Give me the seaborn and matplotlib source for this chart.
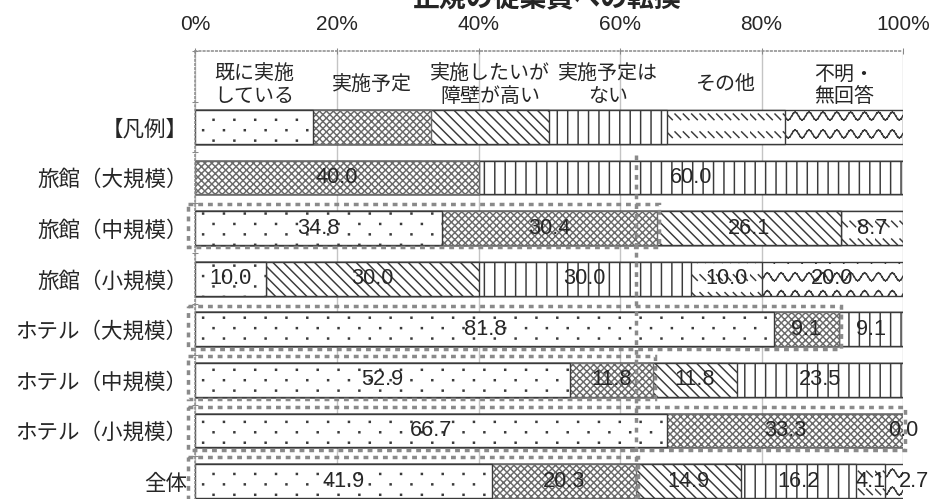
import warnings
import numpy as np
import pandas as pd
import matplotlib
matplotlib.use("Agg")
import matplotlib.pyplot as plt
from matplotlib import hatch as mhatch
from matplotlib.path import Path
from matplotlib.patches import Rectangle
import seaborn as sns

warnings.filterwarnings("ignore")

# ======================
# データ
# ======================
title = "正規の従業員への転換"
rows = ["旅館（大規模）", "旅館（中規模）", "旅館（小規模）",
        "ホテル（大規模）", "ホテル（中規模）", "ホテル（小規模）", "全体"]
answers = ["既に実施\nしている", "実施予定", "実施したいが\n障壁が高い",
           "実施予定は\nない", "その他", "不明・\n無回答"]
# nan = 表示なし
already = [np.nan, 34.8, 10.0, 81.8, 52.9, 66.7, 41.9]
planned = [40.0, 30.4, np.nan, 9.1, 11.8, 33.3, 20.3]
barrier = [np.nan, 26.1, 30.0, np.nan, 11.8, np.nan, 14.9]
no_plan = [60.0, np.nan, 30.0, 9.1, 23.5, np.nan, 16.2]
other = [np.nan, 8.7, 10.0, np.nan, np.nan, np.nan, 4.1]
unknown = [np.nan, np.nan, 20.0, np.nan, np.nan, 0.0, 2.7]
legend_vals = [100 / 6] * 6
highlight = ["旅館（中規模）", "ホテル（大規模）", "ホテル（中規模）", "ホテル（小規模）", "全体"]
xticks = [0, 20, 40, 60, 80, 100]

hatches = [":", "#", "$", "!", "`", "~"]
edges = ["#3a3a3a", "#6a6a6a", "#3a3a3a", "#3a3a3a", "#3a3a3a", "#3a3a3a"]
BOX = "#8a8a8a"
label_shift = {("全体", 5): 2.8}


# ======================
# 独自ハッチ (1タイル = 1インチ四方)
# ======================
def _segs(pairs):
    v = np.asarray(pairs, dtype=float).reshape(-1, 2)
    return v, np.tile([Path.MOVETO, Path.LINETO], len(v) // 2)


def _dots(rows=12, cols=6, s=0.004):
    sq = np.array([[-s, -s], [s, -s], [s, s], [-s, s], [-s, -s]])
    pts = []
    for r in range(rows):
        off = 0.5 if r % 2 else 0.0
        for c in range(cols):
            pts.append(sq + [(c + off + 0.25) / cols, (r + 0.5) / rows])
    codes = np.tile([Path.MOVETO, Path.LINETO, Path.LINETO, Path.LINETO, Path.CLOSEPOLY],
                    rows * cols)
    return np.concatenate(pts), codes


def _vlines(n):
    return _segs([[(i + 0.5) / n, y] for i in range(n) for y in (0, 1)])


def _diag(n, down=True):
    pairs = []
    for i in range(-n, n + 1):
        s = i / n
        pairs += [[s, 1], [s + 1, 0]] if down else [[s, 0], [s + 1, 1]]
    return _segs(pairs)


def _cross(n):
    a, ac = _diag(n, True)
    b, bc = _diag(n, False)
    return np.concatenate([a, b]), np.concatenate([ac, bc])


def _dashes(rows=7, cols=15, d=0.045):
    pairs = []
    for r in range(rows):
        y = (r + 0.3) / rows
        for c in range(cols):
            x = c / cols
            pairs += [[x, y + d], [x + d, y]]
    return _segs(pairs)


def _wave(rows=7, periods=9, steps=72, amp=0.032):
    t = np.linspace(0, 1, steps + 1)
    pairs = []
    for r in range(rows):
        y = (r + 0.5) / rows + amp * np.sin(2 * np.pi * periods * t)
        p = np.column_stack([t, y])
        pairs.append(np.stack([p[:-1], p[1:]], axis=1).reshape(-1, 2))
    return _segs(np.concatenate(pairs))


HATCH_PATHS = {":": _dots(), "#": _cross(18), "$": _diag(12), "!": _vlines(12),
               "`": _dashes(), "~": _wave()}


class CustomHatch(mhatch.HatchPatternBase):
    def __init__(self, hatch, density):
        self.parts = [HATCH_PATHS[c] for c in hatch if c in HATCH_PATHS]
        self.num_vertices = sum(len(v) for v, _ in self.parts)

    def set_vertices_and_codes(self, vertices, codes):
        vertices[:] = np.concatenate([v for v, _ in self.parts])
        codes[:] = np.concatenate([c for _, c in self.parts])


mhatch._hatch_types.append(CustomHatch)

# ======================
# 描画
# ======================
sns.set_theme(style="white")
plt.rcParams["font.family"] = ["Noto Sans CJK JP", "DejaVu Sans"]
plt.rcParams["hatch.linewidth"] = 0.85

cats = ["", "【凡例】"] + rows
series = [already, planned, barrier, no_plan, other, unknown]
vals = np.array([[np.nan] * 6, legend_vals] + [list(r) for r in zip(*series)], dtype=float)
cum = np.nancumsum(vals, axis=1)
df = pd.DataFrame(cum, columns=[f"c{k}" for k in range(6)])
df["cat"] = cats

fig = plt.figure(figsize=(9.35 / 1.25, 4.99 / 1.25), dpi=125)
ax = fig.add_axes([195.5 / 935, 1 - 51 / 499 - 455.4 / 499, 707.5 / 935, 455.4 / 499])

# 累積値を大きい方から重ねて積み上げ棒にする
for k in range(5, -1, -1):
    sns.barplot(data=df, x=f"c{k}", y="cat", order=cats, orient="h", color="white",
                edgecolor=edges[k], linewidth=0.8, width=0.67, errorbar=None, ax=ax)
    for p in ax.containers[-1]:
        p.set_hatch(hatches[k])
        p.set_facecolor("white")
        if p.get_width() == 0:
            p.set_visible(False)

ax.set_xlim(0, 100)
ax.set_ylim(8.5, -0.5)
ax.set_xlabel("")
ax.set_ylabel("")

ax.xaxis.tick_top()
ax.set_xticks(xticks)
ax.set_xticklabels([f"{t}%" for t in xticks], fontsize=12, family="Liberation Sans")
ax.tick_params(axis="x", top=True, bottom=False, direction="inout", length=4,
               width=0.6, color="#888888", pad=8)
ax.set_yticks(range(len(cats)))
ax.set_yticklabels(cats, fontsize=12.4)
ax.set_yticks(np.arange(-0.5, len(cats), 1), minor=True)
ax.tick_params(axis="y", which="major", length=0, pad=4.5)
ax.tick_params(axis="y", which="minor", left=True, direction="inout", length=4,
               width=0.6, color="#888888")

ax.xaxis.grid(True, color="#c4c4c4", lw=0.8)
ax.yaxis.grid(False)
ax.set_axisbelow(True)
for s in ["top", "left"]:
    ax.spines[s].set_color("#8c8c8c")
    ax.spines[s].set_linestyle(":")
    ax.spines[s].set_linewidth(0.9)
for s in ["right", "bottom"]:
    ax.spines[s].set_visible(False)

# 凡例行のラベル
centers = np.cumsum(legend_vals) - np.array(legend_vals) / 2
for c, a in zip(centers, answers):
    ax.text(c, 0.18, a, ha="center", va="center", fontsize=11.5, linespacing=1.05)

# 数値ラベル
for i in range(2, len(cats)):
    for k in range(6):
        v = vals[i, k]
        if np.isnan(v):
            continue
        x = cum[i, k] - v / 2 + label_shift.get((cats[i], k), 0)
        ax.text(x, i, f"{v:.1f}", ha="center", va="center", fontsize=12.5,
                family="Liberation Sans", zorder=6)

# 点線の囲み (既に実施 + 実施予定)
for name in highlight:
    i = cats.index(name)
    ax.add_patch(Rectangle((-1.0, i - 0.47), cum[i, 1] + 1.3, 0.85, fill=False, ec=BOX,
                           lw=2, ls=(0, (1.4, 1.4)), clip_on=False, zorder=5))
x_all = cum[cats.index("全体"), 1]
ax.vlines(x_all, 1.55, 8.5, color=BOX, lw=2, ls=(0, (1.4, 1.4)), clip_on=False, zorder=5)

fig.text(547 / 935, 1 - 6 / 499, title, ha="center", va="baseline", fontsize=15.5,
         weight="bold")

fig.savefig("out.png", dpi=125)
